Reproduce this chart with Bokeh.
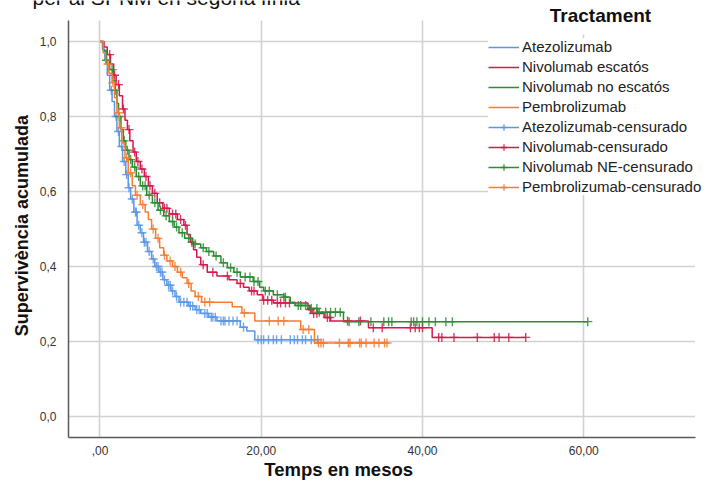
import numpy as np
from bokeh.plotting import figure
from bokeh.models import Range1d, FixedTicker, Legend, LegendItem, Label, BoxAnnotation
from bokeh.embed import file_html
from bokeh.resources import INLINE

# ---------------- data ----------------
groups = ["Atezolizumab", "Nivolumab escatós", "Nivolumab no escatós", "Pembrolizumab"]
censor_labels = ["Atezolizumab-censurado", "Nivolumab-censurado",
                 "Nivolumab NE-censurado", "Pembrolizumab-censurado"]

atezo_t = [0, 0.3, 0.6, 0.9, 1.2, 1.5, 1.8, 2.1, 2.4, 2.8, 3.2, 3.5, 3.8, 4.2, 4.6, 5.0,
           5.4, 5.9, 6.4, 6.8, 7.3, 7.8, 8.3, 8.8, 9.3, 9.8, 11.0, 11.8, 12.5, 13.5, 14.5,
           17.4, 18.2, 19.2]
atezo_s = [1.0, 0.98, 0.95, 0.91, 0.87, 0.84, 0.80, 0.76, 0.72, 0.68, 0.645, 0.61, 0.58,
           0.545, 0.51, 0.49, 0.465, 0.44, 0.42, 0.40, 0.385, 0.365, 0.35, 0.335, 0.32,
           0.305, 0.295, 0.285, 0.275, 0.265, 0.255, 0.238, 0.228, 0.205]
atezo_end = 27.0
atezo_c = [1.4, 2.0, 2.3, 2.7, 3.0, 3.3, 3.6, 4.0, 4.4, 4.5, 4.8, 5.2, 5.5, 5.7, 6.1, 6.6,
           7.0, 7.2, 7.5, 7.7, 8.0, 8.5, 8.7, 9.0, 9.5, 10.0, 10.4, 10.8, 11.2, 11.5, 12.0,
           12.3, 13.0, 13.3, 13.8, 14.0, 14.3, 15.0, 15.3, 15.5, 16.0, 16.5, 17.0, 17.8,
           19.6, 20.0, 20.3, 20.9, 21.5, 21.9, 22.5, 23.6, 24.1, 24.5, 25.1, 25.5, 26.2, 27.0]

nivo_sq_t = [0, 0.5, 0.9, 1.3, 1.7, 2.0, 2.4, 2.8, 3.1, 3.4, 3.7, 4.1, 4.5, 5.0, 5.5, 6.0,
             6.5, 7.1, 7.8, 8.6, 9.6, 10.4, 10.8, 11.2, 11.6, 12.0, 12.5, 13.3, 14.5, 16.0,
             17.0, 17.8, 18.5, 19.5, 20.2, 21.5, 25.8, 26.3, 27.8, 28.6, 33.3, 41.2]
nivo_sq_s = [1.0, 0.985, 0.965, 0.94, 0.91, 0.885, 0.855, 0.82, 0.79, 0.765, 0.735, 0.705,
             0.68, 0.66, 0.64, 0.615, 0.595, 0.57, 0.555, 0.54, 0.525, 0.51, 0.485, 0.465,
             0.445, 0.425, 0.405, 0.385, 0.375, 0.365, 0.355, 0.345, 0.335, 0.325, 0.31,
             0.303, 0.285, 0.275, 0.264, 0.255, 0.237, 0.211]
nivo_sq_end = 52.8
nivo_sq_c = [1.2, 1.8, 2.3, 2.9, 3.6, 4.3, 4.7, 5.2, 5.7, 6.2, 6.8, 7.4, 8.0, 8.3, 9.0, 9.4,
             10.0, 10.6, 11.4, 12.8, 14.0, 15.8, 17.4, 18.8, 19.1, 20.3, 20.8, 21.3, 22.0,
             22.4, 23.0, 23.5, 26.1, 26.5, 26.9, 28.2, 28.5, 30.7, 32.3, 33.9, 35.0, 38.5,
             39.1, 39.6, 40.0, 42.0, 42.4, 43.9, 46.8, 48.9, 49.5, 50.7, 52.8]

nivo_nsq_t = [0, 0.4, 0.8, 1.2, 1.6, 1.9, 2.1, 2.3, 2.6, 2.9, 3.2, 3.6, 4.0, 4.5, 5.0, 5.8,
              6.5, 7.2, 7.9, 8.6, 9.2, 9.8, 10.5, 11.5, 12.5, 13.2, 14.1, 15.0, 15.8, 16.6,
              17.4, 19.0, 19.8, 20.3, 21.5, 22.8, 23.6, 24.2, 26.0, 27.0, 30.2]
nivo_nsq_s = [1.0, 0.975, 0.95, 0.925, 0.895, 0.87, 0.835, 0.80, 0.765, 0.735, 0.71, 0.685,
              0.665, 0.64, 0.615, 0.59, 0.57, 0.55, 0.535, 0.52, 0.505, 0.49, 0.475, 0.46,
              0.45, 0.44, 0.428, 0.41, 0.397, 0.385, 0.372, 0.36, 0.345, 0.335, 0.325, 0.318,
              0.305, 0.296, 0.288, 0.278, 0.253]
nivo_nsq_end = 60.5
nivo_nsq_c = [0.8, 1.5, 1.9, 2.4, 3.0, 3.4, 3.8, 4.3, 4.8, 5.3, 5.6, 6.1, 6.8, 7.5, 8.2, 9.0,
              9.5, 10.2, 11.0, 11.8, 12.8, 13.5, 14.4, 15.3, 16.2, 17.0, 18.0, 18.6, 19.1,
              19.6, 20.5, 21.0, 22.0, 22.8, 23.0, 24.6, 24.9, 25.5, 26.2, 26.9, 27.2, 28.0,
              28.6, 29.2, 29.8, 30.9, 32.1, 33.6, 35.2, 35.8, 36.2, 38.6, 38.9, 39.3, 40.0,
              40.8, 41.6, 42.9, 43.7, 60.5]

pembro_t = [0, 0.4, 0.7, 1.1, 1.5, 1.8, 2.1, 2.4, 2.7, 3.1, 3.5, 4.0, 4.4, 5.0, 5.6, 6.0,
            6.4, 6.9, 7.4, 7.9, 8.3, 9.0, 9.6, 10.2, 10.8, 11.3, 11.8, 12.6, 16.4, 17.6,
            19.2, 24.9, 26.6]
pembro_s = [1.0, 0.97, 0.94, 0.915, 0.89, 0.85, 0.81, 0.77, 0.73, 0.69, 0.65, 0.615, 0.59,
            0.565, 0.545, 0.525, 0.50, 0.475, 0.45, 0.43, 0.415, 0.40, 0.385, 0.37, 0.355,
            0.335, 0.32, 0.305, 0.293, 0.276, 0.255, 0.232, 0.196]
pembro_end = 35.6
pembro_c = [1.0, 1.6, 2.3, 2.6, 3.3, 3.8, 4.6, 5.3, 6.6, 7.2, 8.0, 8.7, 9.3, 10.0, 11.0,
            12.2, 13.0, 13.6, 17.9, 21.0, 22.1, 22.8, 25.2, 25.9, 27.1, 27.4, 27.7, 29.7,
            30.8, 31.0, 32.2, 32.4, 33.0, 34.0, 34.6, 35.3, 35.6]

x_ticks = [0, 20, 40, 60]
x_tick_labels = [",00", "20,00", "40,00", "60,00"]
y_ticks = [0.0, 0.2, 0.4, 0.6, 0.8, 1.0]
y_tick_labels = ["0,0", "0,2", "0,4", "0,6", "0,8", "1,0"]

title_text = "per al SPNM en segona línia"
x_title = "Temps en mesos"
y_title = "Supervivència acumulada"
legend_title = "Tractament"

colors = ["#5A97E4", "#D8174B", "#2C8C31", "#F47C33"]

series = [
    (atezo_t, atezo_s, atezo_end, atezo_c),
    (nivo_sq_t, nivo_sq_s, nivo_sq_end, nivo_sq_c),
    (nivo_nsq_t, nivo_nsq_s, nivo_nsq_end, nivo_nsq_c),
    (pembro_t, pembro_s, pembro_end, pembro_c),
]

FONT = "Liberation Sans"

# plotting area (axes box) in data units; the frame spans the whole canvas
X0, X1 = -3.9, 73.8
Y0, Y1 = -0.056, 1.056

p = figure(width=710, height=481, output_backend="svg", toolbar_location=None,
           x_range=Range1d(-12.34, 75.72), y_range=Range1d(-0.1733, 1.1093),
           min_border=0)
p.outline_line_color = None
p.background_fill_color = "white"

for ax in (p.xaxis, p.yaxis):
    ax.axis_line_color = "#5a5a5a"
    ax.axis_line_width = 1.5
    ax.major_tick_line_color = None
    ax.minor_tick_line_color = None
    ax.major_label_text_font = FONT
    ax.major_label_text_font_size = "12px"
    ax.major_label_text_color = "#333333"

p.xaxis.fixed_location = Y0
p.xaxis.bounds = (X0, X1)
p.xaxis.ticker = FixedTicker(ticks=x_ticks)
p.xaxis.major_label_overrides = dict(zip(x_ticks, x_tick_labels))
p.xaxis.major_label_standoff = 2

p.yaxis.fixed_location = X0
p.yaxis.bounds = (Y0, Y1)
p.yaxis.ticker = FixedTicker(ticks=y_ticks)
p.yaxis.major_label_overrides = dict(zip(y_ticks, y_tick_labels))
p.yaxis.major_label_standoff = 6

p.xgrid.ticker = FixedTicker(ticks=x_ticks)
p.ygrid.ticker = FixedTicker(ticks=y_ticks)
for g in (p.xgrid, p.ygrid):
    g.grid_line_color = "#d2d2d2"
    g.grid_line_width = 1.6

# white masks so grid lines stay inside the axes box
for kw in (dict(right=X0), dict(top=Y0), dict(bottom=Y1), dict(left=X1)):
    p.add_layout(BoxAnnotation(fill_color="white", fill_alpha=1.0, line_color=None,
                               level="underlay", **kw))

step_renderers = []
cens_renderers = []
for (t, s, end, c), col in zip(series, colors):
    t_arr = np.array(t, dtype=float)
    s_arr = np.array(s, dtype=float)
    xs = np.append(t_arr, end)
    ys = np.append(s_arr, s_arr[-1])
    r = p.step(xs, ys, mode="after", line_color=col, line_width=1.5)
    step_renderers.append(r)
    c_arr = np.array(c, dtype=float)
    idx = np.searchsorted(t_arr, c_arr, side="right") - 1
    cy = s_arr[idx]
    cr = p.scatter(c_arr, cy, marker="cross", size=9, line_color=col,
                   line_width=1.4, line_alpha=0.85)
    cens_renderers.append(cr)

items = [LegendItem(label=g, renderers=[r]) for g, r in zip(groups, step_renderers)]
items += [LegendItem(label=lab, renderers=[r, cr])
          for lab, r, cr in zip(censor_labels, step_renderers, cens_renderers)]

legend = Legend(items=items, location=(488, 286), background_fill_color="white",
                background_fill_alpha=1.0, border_line_color=None, padding=4, margin=0,
                spacing=3, label_height=16, glyph_height=16, glyph_width=31,
                label_standoff=3, label_text_font=FONT, label_text_font_size="15px",
                label_text_color="#222222")
p.add_layout(legend)

p.add_layout(Label(x=62.07, y=1.068, text=legend_title, text_font=FONT,
                   text_font_size="19px", text_font_style="bold", text_align="center",
                   text_baseline="alphabetic", text_color="#111111",
                   background_fill_color="white", padding=8))

p.add_layout(Label(x=29.6, y=-0.1413, text=x_title, text_font=FONT,
                   text_font_size="18.5px", text_font_style="bold", text_align="center",
                   text_baseline="alphabetic", text_color="#111111"))

p.add_layout(Label(x=-9.67, y=0.509, text=y_title, text_font=FONT, angle=np.pi / 2,
                   text_font_size="18px", text_font_style="bold", text_align="center",
                   text_baseline="middle", text_color="#111111"))

p.add_layout(Label(x=-8.37, y=1.117, text=title_text, text_font=FONT,
                   text_font_size="21px", text_align="left",
                   text_baseline="alphabetic", text_color="#111111"))

open("out.html", "w").write(file_html(p, INLINE))
